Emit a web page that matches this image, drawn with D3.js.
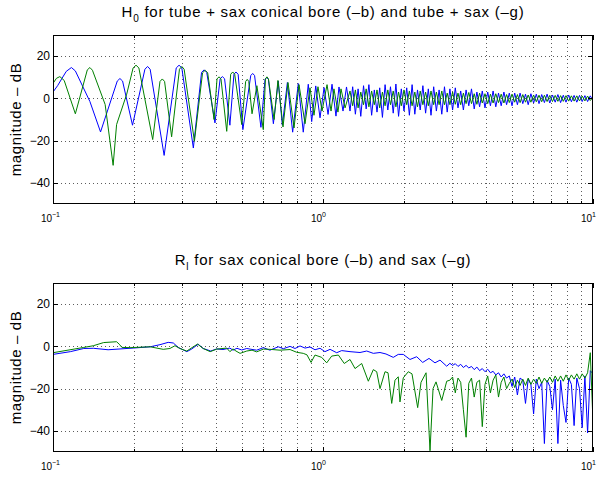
<!DOCTYPE html>
<html>
<head>
<meta charset="utf-8">
<script src="https://cdn.jsdelivr.net/npm/d3@7"></script>
<style>
  body { margin: 0; background: #fff; }
  svg text { font-family: "Liberation Sans", Arial, Helvetica, sans-serif; fill: #000; }
</style>
</head>
<body>
<div id="chart"></div>
<script>
// ---- data: [frequency, magnitude dB] ----

// H0, low frequency part (peaks / troughs)
const h0BlueLow = [
    [0.100, 3.0], [0.104, 6.0], [0.108, 9.5], [0.112, 12.8], [0.117, 14.6], [0.121, 13.0],
    [0.137, -1.5], [0.150, -15.9], [0.173, 8.2], [0.177, 9.4], [0.181, 8.2], [0.197, -12.7],
    [0.219, 13.8], [0.224, 15.1], [0.229, 13.8], [0.258, -27.0],
    [0.286, 14.4], [0.293, 15.7], [0.300, 14.4], [0.331, -23.5],
    [0.355, 12.3], [0.363, 13.5], [0.371, 12.3], [0.398, -11.6],
    [0.416, 9.3], [0.424, 10.3], [0.432, 9.3], [0.452, -12.7],
    [0.468, 11.4], [0.476, 12.5], [0.485, 11.4], [0.505, -14.8],
    [0.540, 10.8], [0.549, 11.8], [0.558, 10.8], [0.589, -13.7],
    [0.610, 9.0], [0.619, 9.9], [0.628, 9.0], [0.655, -12.0],
    [0.683, 8.2], [0.707, -12.7], [0.738, 7.5], [0.772, -16.0], [0.810, 7.0], [0.845, -16.0],
    [0.882, 6.7], [0.908, -11.0], [0.940, 5.9], [0.975, -9.2], [1.009, 5.1], [1.044, -7.6],
    [1.080, 6.7], [1.117, -8.4], [1.146, 5.4], [1.186, -6.0], [1.222, 5.4]
];
const h0GreenLow = [
    [0.100, 7.1], [0.103, 9.5], [0.106, 10.3], [0.110, 8.5], [0.121, -7.3],
    [0.134, 13.5], [0.137, 14.6], [0.140, 13.3],
    [0.156, -2.9], [0.167, -31.7], [0.172, -12.4], [0.1875, 2.0],
    [0.198, 14.4], [0.203, 15.7], [0.208, 14.4], [0.234, -19.5],
    [0.249, 8.0], [0.254, 9.2], [0.259, 8.0], [0.275, -18.2],
    [0.294, 13.8], [0.300, 15.1], [0.306, 13.8], [0.334, -20.3],
    [0.358, 12.1], [0.366, 13.3], [0.374, 12.1], [0.395, -10.0],
    [0.405, 9.2], [0.412, 10.2], [0.419, 9.2], [0.440, -15.6],
    [0.455, 11.4], [0.463, 12.5], [0.471, 11.4], [0.500, -12.4],
    [0.517, 8.0], [0.524, 9.0], [0.531, 8.0], [0.546, -7.3],
    [0.569, 6.0], [0.601, -14.8], [0.612, 9.2], [0.620, 10.2], [0.628, 9.2], [0.659, -10.0],
    [0.681, 8.5], [0.711, -13.5],
    [0.742, 7.5], [0.781, -14.0], [0.815, 6.5], [0.858, -12.0], [0.895, 5.0], [0.926, -8.0],
    [0.958, 5.5], [0.992, -6.0], [1.035, 6.5], [1.071, -6.0], [1.098, 4.5], [1.136, -6.5],
    [1.166, 4.5], [1.207, -4.5]
];

// frequencies where the dense high frequency part was read
const fineFreq = [
    1.259, 1.288, 1.318, 1.349, 1.380, 1.413, 1.445, 1.479, 1.514, 1.549,
    1.585, 1.622, 1.660, 1.698, 1.738, 1.778, 1.820, 1.862, 1.905, 1.950,
    1.995, 2.042, 2.089, 2.138, 2.188, 2.239, 2.291, 2.344, 2.399, 2.455,
    2.512, 2.570, 2.630, 2.692, 2.754, 2.818, 2.884, 2.951, 3.020, 3.090,
    3.162, 3.236, 3.311, 3.388, 3.467, 3.548, 3.631, 3.715, 3.802, 3.890,
    3.981, 4.074, 4.169, 4.266, 4.365, 4.467, 4.571, 4.677, 4.786, 4.898,
    5.012, 5.129, 5.248, 5.370, 5.495, 5.623, 5.754, 5.888, 6.026, 6.166,
    6.310, 6.457, 6.607, 6.761, 6.918, 7.079, 7.244, 7.413, 7.586, 7.762,
    7.943, 8.128, 8.318, 8.511, 8.710, 8.913, 9.120, 9.333, 9.550, 9.772,
    10.0
];
const h0BlueFine = [
    -6.0, 5.5, -7.5, 4.5, -8.5, 6.0, -5.0, 6.5, -8.0, 4.0,
    -6.5, 5.0, -9.0, 6.5, -5.5, 5.5, -7.0, 6.8, -8.5, 4.5,
    -6.0, 5.0, -8.0, 6.5, -7.5, 4.0, -5.5, 6.0, -7.0, 4.5,
    -8.0, 5.5, -6.0, 4.0, -7.5, 5.5, -6.5, 4.5, -5.5, 5.0,
    -4.5, 3.5, -5.5, 4.0, -3.5, 4.5, -5.0, 3.0, -4.0, 3.5,
    -4.5, 3.0, -3.5, 3.5, -4.0, 2.5, -3.5, 3.0, -3.0, 2.5,
    -3.5, 2.5, -3.0, 2.5, -2.5, 2.0, -3.0, 2.2, -2.2, 2.0,
    -2.5, 1.8, -2.0, 2.0, -2.2, 1.6, -1.8, 1.8, -2.0, 1.5,
    -1.8, 1.6, -1.6, 1.4, -1.8, 1.4, -1.5, 1.3, -1.5, 1.2,
    -1.0
];
const h0GreenFine = [
    3.5, -3.5, 4.0, -4.5, 3.0, -3.0, 4.5, -4.0, 3.5, -3.0,
    4.0, -4.5, 3.0, -3.5, 4.0, -3.0, 3.5, -4.0, 3.0, -3.5,
    4.0, -3.0, 3.5, -3.5, 3.0, -4.0, 3.5, -3.0, 3.0, -3.5,
    3.5, -3.0, 3.0, -3.0, 3.5, -3.0, 2.5, -3.0, 3.0, -2.8,
    2.5, -3.0, 2.5, -2.5, 2.8, -2.5, 2.2, -2.8, 2.5, -2.2,
    2.2, -2.5, 2.0, -2.2, 2.2, -2.0, 2.0, -2.2, 1.8, -2.0,
    2.0, -1.8, 1.8, -2.0, 1.8, -1.8, 1.6, -1.8, 1.6, -1.6,
    1.5, -1.6, 1.5, -1.5, 1.4, -1.5, 1.4, -1.4, 1.3, -1.4,
    1.3, -1.3, 1.2, -1.3, 1.2, -1.2, 1.1, -1.2, 1.1, -1.0,
    0.5
];

// RI, low frequency part
const rlBlueLow = [
    [0.100, -3.8], [0.116, -2.5], [0.130, -1.0], [0.141, -0.9], [0.160, -1.6], [0.198, -0.8],
    [0.229, -0.2], [0.249, 0.8], [0.267, 1.9], [0.279, 1.6], [0.291, -0.5], [0.313, -2.5],
    [0.326, -1.3], [0.345, 1.0], [0.360, -1.0], [0.384, -2.2], [0.404, -1.2], [0.426, -1.5],
    [0.452, -0.8], [0.464, -1.8], [0.480, -0.9], [0.500, -1.7], [0.522, -1.0], [0.537, -1.3],
    [0.568, -1.8], [0.601, -0.6], [0.636, -1.8], [0.683, -0.2], [0.713, -1.1], [0.755, 0.0],
    [0.788, -1.0], [0.822, 0.2], [0.858, -0.8], [0.895, -0.3], [0.934, -1.6], [0.975, -0.9],
    [1.017, -2.5], [1.062, -1.4], [1.124, -3.0], [1.173, -2.0], [1.259, -2.5], [1.371, -2.9],
    [1.452, -2.2], [1.536, -3.3], [1.626, -2.9], [1.711, -3.6], [1.821, -5.2], [1.900, -3.8],
    [1.983, -3.8], [2.100, -6.2], [2.223, -4.9], [2.340, -7.6], [2.470, -5.7], [2.599, -7.8],
    [2.713, -6.5], [2.872, -9.4]
];
const rlGreenLow = [
    [0.100, -3.0], [0.130, -0.5], [0.141, 0.3], [0.154, 1.8], [0.172, 2.2], [0.176, 1.0],
    [0.180, -0.5], [0.193, -0.6], [0.229, -0.2], [0.256, -1.4], [0.271, -1.0], [0.283, 0.3],
    [0.295, -1.0], [0.313, -2.2], [0.343, 1.1], [0.360, -1.0], [0.382, -2.5], [0.404, -1.3],
    [0.440, -0.8], [0.452, -2.5], [0.464, -1.2], [0.476, -2.2], [0.493, -3.3], [0.522, -2.2],
    [0.546, -1.8], [0.568, -2.6], [0.601, -1.3], [0.636, -1.4], [0.693, -1.8], [0.755, -1.5],
    [0.799, -2.8], [0.845, -3.3], [0.872, -4.0], [0.903, -7.6], [0.934, -4.1], [0.989, -5.2],
    [1.032, -7.8], [1.077, -4.6], [1.140, -4.1], [1.199, -8.1], [1.259, -6.2], [1.314, -10.5],
    [1.391, -8.1], [1.472, -16.5], [1.536, -11.0], [1.581, -12.0], [1.626, -20.0], [1.697, -12.0],
    [1.741, -12.5], [1.797, -27.0], [1.848, -16.0], [1.900, -14.4], [1.928, -26.3], [1.983, -14.9],
    [2.070, -12.0], [2.136, -13.0], [2.242, -29.0], [2.307, -17.0], [2.408, -12.5], [2.491, -49.4],
    [2.556, -20.0], [2.622, -16.8], [2.753, -25.6], [2.872, -16.5]
];
// RI dense part, read at fineFreq from 2.951 upward
const rlBlueFine = [
    -8.0, -9.0, -8.2, -9.5, -8.5, -10.0, -9.0, -10.2, -9.5, -11.0,
    -9.8, -11.5, -10.5, -12.0, -10.8, -12.5, -11.8, -13.5, -12.5, -14.5,
    -13.0, -15.0, -14.0, -19.0, -14.5, -23.0, -15.0, -16.0, -27.0, -15.5,
    -18.0, -32.0, -15.5, -20.0, -17.0, -46.0, -16.0, -19.0, -30.0, -15.5,
    -46.0, -16.0, -28.0, -36.0, -15.0, -18.0, -37.5, -15.0, -20.0, -38.5,
    -14.0, -41.0, -11.5, -13.0
];
const rlGreenFine = [
    -16.0, -14.5, -22.0, -15.0, -17.0, -30.0, -43.0, -17.5, -15.0, -24.0,
    -17.0, -16.0, -38.0, -18.0, -14.0, -22.0, -16.0, -13.5, -24.0, -17.0,
    -14.5, -20.0, -17.5, -15.5, -19.5, -16.0, -18.5, -15.5, -18.5, -15.0,
    -18.0, -15.5, -17.5, -14.5, -17.5, -15.0, -17.0, -14.5, -17.0, -14.0,
    -16.5, -14.0, -16.5, -13.5, -16.0, -13.5, -15.5, -13.0, -15.5, -13.0,
    -15.0, -12.5, -3.0, -36.0
];

const yTicks = [-40, -20, 0, 20];
const decadeExps = [-1, 0, 1];

// ---- chart ----
const width = 599;
const height = 479;
const colors = {b: '#0000ff', g: '#008000'};

const svg = d3.select('#chart')
    .append('svg')
        .attr('width', width)
        .attr('height', height);

const zipFine = (freqs, vals) => vals.map((v, i) => [freqs[i], v]);
const fineFreqRl = fineFreq.slice(fineFreq.length - rlBlueFine.length);

const panels = [
    {
        top: 35, bottom: 204,
        title: ['H', '0', ' for tube + sax conical bore (–b) and tube + sax (–g)'],
        blue: h0BlueLow.concat(zipFine(fineFreq, h0BlueFine)),
        green: h0GreenLow.concat(zipFine(fineFreq, h0GreenFine))
    },
    {
        top: 283, bottom: 452,
        title: ['R', 'l', ' for sax conical bore (–b) and sax (–g)'],
        blue: rlBlueLow.concat(zipFine(fineFreqRl, rlBlueFine)),
        green: rlGreenLow.concat(zipFine(fineFreqRl, rlGreenFine))
    }
];

const left = 53, right = 593;
const x = d3.scaleLog().domain([0.1, 10]).range([left, right]);

// minor log positions 0.2..0.9, 2..9
const minorTicks = [];
[0.1, 1].forEach(d => { for (let k = 2; k <= 9; k++) minorTicks.push(+(d * k).toFixed(2)); });

panels.forEach((p, pi) => {
    const y = d3.scaleLinear().domain([-50, 30]).range([p.bottom, p.top]);
    const g = svg.append('g');

    // clip for the curves
    g.append('clipPath').attr('id', 'clip' + pi)
        .append('rect')
            .attr('x', left).attr('y', p.top)
            .attr('width', right - left).attr('height', p.bottom - p.top);

    // dotted grid
    const grid = g.append('g')
        .attr('stroke', '#333')
        .attr('stroke-width', 0.8)
        .attr('stroke-dasharray', '1 3');
    grid.selectAll('line.v')
        .data(minorTicks.concat([1]))
        .join('line')
            .attr('class', 'v')
            .attr('x1', d => Math.round(x(d)) + 0.5).attr('x2', d => Math.round(x(d)) + 0.5)
            .attr('y1', p.top).attr('y2', p.bottom);
    grid.selectAll('line.h')
        .data(yTicks)
        .join('line')
            .attr('class', 'h')
            .attr('x1', left).attr('x2', right)
            .attr('y1', d => Math.round(y(d)) + 0.5).attr('y2', d => Math.round(y(d)) + 0.5);

    // curves
    const line = d3.line().x(d => x(d[0])).y(d => y(d[1]));
    const curves = g.append('g').attr('clip-path', `url(#clip${pi})`);
    curves.append('path')
        .attr('d', line(p.blue))
        .attr('fill', 'none').attr('stroke', colors.b).attr('stroke-width', 1);
    curves.append('path')
        .attr('d', line(p.green))
        .attr('fill', 'none').attr('stroke', colors.g).attr('stroke-width', 1);

    // box
    g.append('rect')
        .attr('x', left + 0.5).attr('y', p.top + 0.5)
        .attr('width', right - left - 1).attr('height', p.bottom - p.top - 1)
        .attr('fill', 'none').attr('stroke', '#000').attr('stroke-width', 1);

    // inward ticks on all four sides
    const ticks = g.append('g').attr('stroke', '#000').attr('stroke-width', 1);
    const xTickData = minorTicks.map(v => ({v, len: 3})).concat([0.1, 1, 10].map(v => ({v, len: 5})));
    xTickData.forEach(t => {
        const px = Math.round(x(t.v)) + 0.5;
        ticks.append('line').attr('x1', px).attr('x2', px).attr('y1', p.bottom).attr('y2', p.bottom - t.len);
        ticks.append('line').attr('x1', px).attr('x2', px).attr('y1', p.top).attr('y2', p.top + t.len);
    });
    yTicks.forEach(v => {
        const py = Math.round(y(v)) + 0.5;
        ticks.append('line').attr('x1', left).attr('x2', left + 5).attr('y1', py).attr('y2', py);
        ticks.append('line').attr('x1', right).attr('x2', right - 5).attr('y1', py).attr('y2', py);
    });

    // y tick labels
    g.selectAll('text.yt')
        .data(yTicks)
        .join('text')
            .attr('class', 'yt')
            .attr('x', left - 3)
            .attr('y', d => y(d))
            .attr('dy', '0.36em')
            .attr('text-anchor', 'end')
            .style('font-size', '12px')
            .text(d => d < 0 ? '\u2212' + Math.abs(d) : d);

    // x tick labels 10^e
    decadeExps.forEach(e => {
        const px = x(Math.pow(10, e));
        g.append('text')
            .attr('x', px - 1).attr('y', p.bottom + 18)
            .attr('text-anchor', 'end')
            .style('font-size', '10px')
            .text('10');
        g.append('text')
            .attr('x', px - 1).attr('y', p.bottom + 13)
            .attr('text-anchor', 'start')
            .style('font-size', '7px')
            .text(e < 0 ? '\u2212' + Math.abs(e) : e);
    });

    // title with subscript
    const title = g.append('text')
        .attr('x', (left + right) / 2)
        .attr('y', p.top - 18)
        .attr('text-anchor', 'middle')
        .style('font-size', '15px')
        .style('letter-spacing', '0.75px');
    title.append('tspan').text(p.title[0]);
    title.append('tspan').attr('dy', 5).style('font-size', '10px').text(p.title[1]);
    title.append('tspan').attr('dy', -5).text(p.title[2]);

    // y label
    g.append('text')
        .attr('transform', `translate(21, ${(p.top + p.bottom) / 2}) rotate(-90)`)
        .attr('text-anchor', 'middle')
        .style('font-size', '15px')
        .style('letter-spacing', '0.6px')
        .text('magnitude – dB');
});
</script>
</body>
</html>
